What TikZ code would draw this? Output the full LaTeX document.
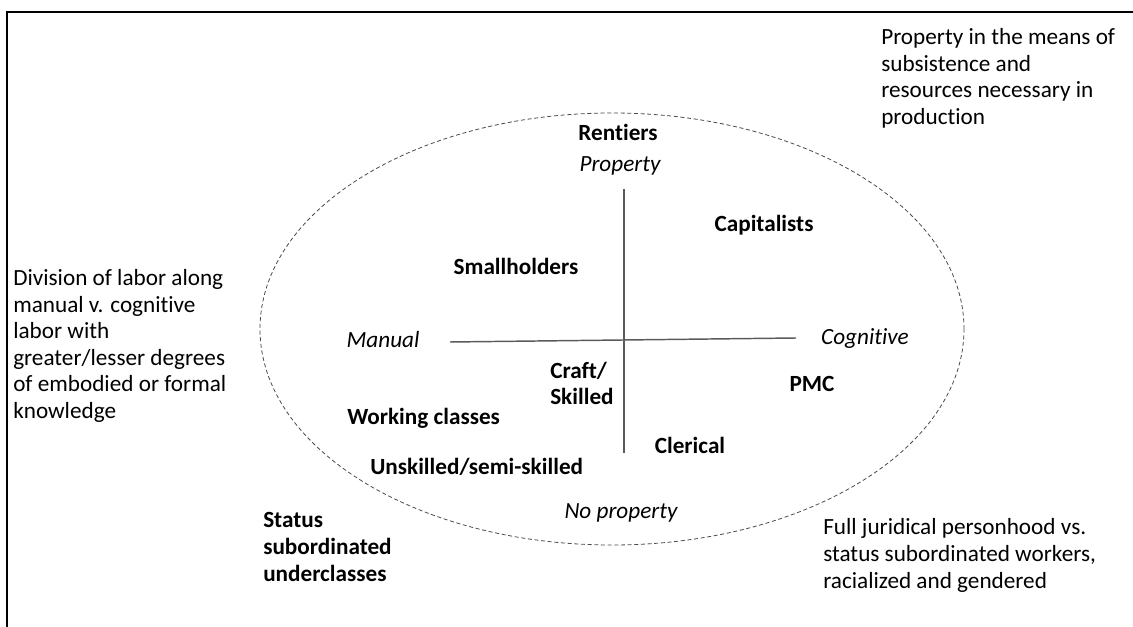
\documentclass[tikz,border=0pt]{standalone}
\usepackage{fontspec}
\setmainfont{Carlito}[Ligatures=NoCommon]
\usetikzlibrary{positioning}
\definecolor{axisgray}{HTML}{5A5A5A}
\definecolor{ringgray}{HTML}{4A4A4A}
\newcommand{\mapfont}{\fontsize{17.4}{19.9}\selectfont}
\tikzset{
  txt/.style={inner sep=0pt, font=\mapfont, text=black},
  note/.style={txt, align=left, anchor=base west},
  cls/.style={txt, font=\mapfont\bfseries, anchor=base},
  clsleft/.style={cls, align=left, anchor=base west},
  pole/.style={txt, font=\mapfont\itshape, anchor=base},
  axis/.style={draw=axisgray, line width=1.1pt},
  ring/.style={draw=ringgray, dash pattern=on 3pt off 2pt, line width=0.6pt},
  frame/.style={draw=black, line width=1.6pt},
}
\begin{document}
\begin{tikzpicture}[x=0.75pt, y=-0.75pt]
\useasboundingbox (0,0) rectangle (1133,627);

% ---- frame and ring --------------------------------------------------
\draw[frame] (1133,12) -- (7,12) -- (7,627);
\draw[ring] (612,329) ellipse [x radius=264pt, y radius=162pt];

% ---- axes ------------------------------------------------------------
\coordinate (proptop) at (624,189);
\coordinate (propbot) at (624,453);
\coordinate (manend) at (450,342);
\coordinate (cogend) at (796,338);
\draw[axis] (proptop) -- (propbot);
\draw[axis] (manend) -- (cogend);

% ---- poles -----------------------------------------------------------
\node[pole] (property) at (620,172) {Property};
\node[pole] (noproperty) at (621,518) {No property};
\node[pole] (manual) at (383,348) {Manual};
\node[pole] (cognitive) at (865,345) {Cognitive};

% ---- classes (multi-line nodes sit on their last baseline) -----------
\node[cls] (rentiers) at (618,141) {Rentiers};
\node[cls] (capitalists) at (764,232) {Capitalists};
\node[cls] (smallholders) at (516,275) {Smallholders};
\node[cls] (pmc) at (812,392) {PMC};
\node[cls] (clerical) at (690,454) {Clerical};
\node[clsleft] (craft) at (550,405) {Craft/\\Skilled};
\node[clsleft] (working) at (347,425) {Working classes};
\node[clsleft] (unskilled) at (370,475) {Unskilled/semi-skilled};
\node[clsleft] (status) at (263,581) {Status\\subordinated\\underclasses};

% ---- dimension notes -------------------------------------------------
\node[note] (propnote) at (881,124.5) {Property in the means of\\subsistence and\\resources necessary in\\production};
\node[note] (divnote) at (13,418.5) {Division of labor along\\manual v. cognitive\\labor with\\greater/lesser degrees\\of embodied or formal\\knowledge};
\node[note] (statusnote) at (823,588) {Full juridical personhood vs.\\status subordinated workers,\\racialized and gendered};

\end{tikzpicture}
\end{document}
